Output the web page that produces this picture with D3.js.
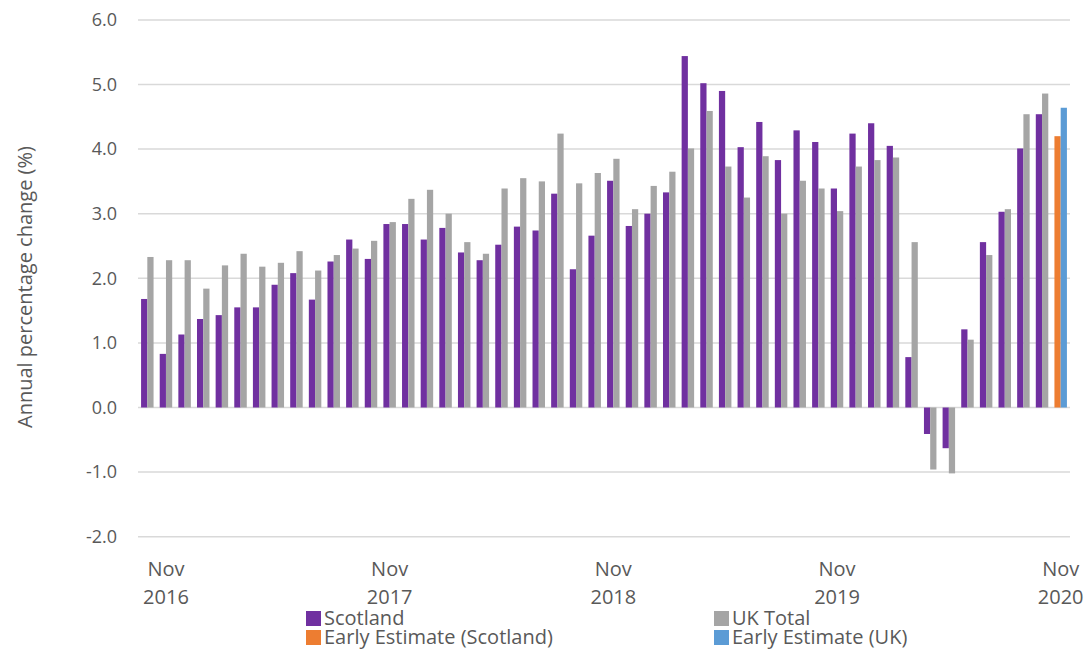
<!DOCTYPE html>
<html>
<head>
<meta charset="utf-8">
<script src="https://cdn.jsdelivr.net/npm/d3@7"></script>
<style>
  body { margin: 0; background: #fff; }
  .tick-y { font-family: "Open Sans", sans-serif; font-size: 18px; fill: #595959; }
  .tick-x, .legend text { font-family: "Open Sans", sans-serif; font-size: 20px; fill: #595959; }
  .ytitle { font-family: "Open Sans", sans-serif; font-size: 20px; fill: #595959; }
</style>
</head>
<body>
<div id="chart"></div>
<script>

// Oct 2016 .. Oct 2020, monthly
var scotland = [1.68, 0.83, 1.13, 1.37, 1.43, 1.55, 1.55, 1.90, 2.08, 1.67,
                2.26, 2.60, 2.30, 2.84, 2.84, 2.60, 2.78, 2.40, 2.28, 2.52,
                2.80, 2.74, 3.31, 2.14, 2.66, 3.51, 2.81, 3.00, 3.33, 5.44,
                5.02, 4.90, 4.03, 4.42, 3.83, 4.29, 4.11, 3.39, 4.24, 4.40,
                4.05, 0.78, -0.41, -0.63, 1.21, 2.56, 3.03, 4.01, 4.54];
var ukTotal  = [2.33, 2.28, 2.28, 1.84, 2.20, 2.38, 2.18, 2.24, 2.42, 2.12,
                2.36, 2.46, 2.58, 2.87, 3.23, 3.37, 3.00, 2.56, 2.38, 3.39,
                3.55, 3.50, 4.24, 3.47, 3.63, 3.85, 3.07, 3.43, 3.65, 4.01,
                4.59, 3.73, 3.25, 3.89, 3.00, 3.51, 3.39, 3.04, 3.73, 3.83,
                3.87, 2.56, -0.96, -1.02, 1.05, 2.36, 3.07, 4.54, 4.86];
// Nov 2020 early estimates
var earlyScotland = [4.20];
var earlyUK = [4.64];

var yTicks = [-2, -1, 0, 1, 2, 3, 4, 5, 6];
var xTickMonths = ["Nov 2016", "Nov 2017", "Nov 2018", "Nov 2019", "Nov 2020"];

var legendItems = [
    {label: "Scotland", color: "#7030A0"},
    {label: "UK Total", color: "#A5A5A5"},
    {label: "Early Estimate (Scotland)", color: "#ED7D31"},
    {label: "Early Estimate (UK)", color: "#5B9BD5"}
];

var fmt = d3.timeFormat("%b %Y");
var months = d3.timeMonth.range(new Date(2016, 9, 1), new Date(2020, 11, 1)).map(fmt);

// build rows: one per month, two slots
var rows = months.map(function (m, i) {
    if (i < scotland.length) {
        return {month: m, bars: [
            {slot: "a", value: scotland[i], color: "#7030A0"},
            {slot: "b", value: ukTotal[i], color: "#A5A5A5"}
        ]};
    }
    var j = i - scotland.length;
    return {month: m, bars: [
        {slot: "a", value: earlyScotland[j], color: "#ED7D31"},
        {slot: "b", value: earlyUK[j], color: "#5B9BD5"}
    ]};
});

var width = 1088, height = 652;
var svg = d3.select("#chart").append("svg")
    .attr("width", width)
    .attr("height", height);

var x = d3.scaleBand()
    .domain(months)
    .range([138, 1070])
    .paddingInner(0.33)
    .paddingOuter(0.165);

var xs = d3.scaleBand()
    .domain(["a", "b"])
    .range([0, x.bandwidth()]);

var y = d3.scaleLinear()
    .domain([-2, 6])
    .range([536.7, 19.9]);

// gridlines
svg.append("g")
    .selectAll("line")
    .data(yTicks)
    .enter()
    .append("line")
    .attr("x1", 138)
    .attr("x2", 1070)
    .attr("y1", function (d) { return y(d); })
    .attr("y2", function (d) { return y(d); })
    .attr("stroke", "#d9d9d9")
    .attr("stroke-width", 1.5);

// y tick labels
svg.append("g")
    .selectAll("text")
    .data(yTicks)
    .enter()
    .append("text")
    .attr("class", "tick-y")
    .attr("x", 117)
    .attr("y", function (d) { return y(d); })
    .attr("dy", "0.35em")
    .attr("text-anchor", "end")
    .text(function (d) { return d.toFixed(1); });

svg.append("text")
    .attr("class", "ytitle")
    .attr("transform", "translate(32,287) rotate(-90)")
    .attr("text-anchor", "middle")
    .text("Annual percentage change (%)");

// bars
var groups = svg.append("g")
    .selectAll("g")
    .data(rows)
    .enter()
    .append("g")
    .attr("transform", function (d) { return "translate(" + x(d.month) + ",0)"; });

groups.selectAll("rect")
    .data(function (d) { return d.bars; })
    .enter()
    .append("rect")
    .attr("x", function (d) { return xs(d.slot); })
    .attr("width", xs.bandwidth())
    .attr("y", function (d) { return y(Math.max(0, d.value)); })
    .attr("height", function (d) { return Math.abs(y(d.value) - y(0)); })
    .attr("fill", function (d) { return d.color; });

// x tick labels
var xt = svg.append("g")
    .selectAll("text")
    .data(xTickMonths)
    .enter()
    .append("text")
    .attr("class", "tick-x")
    .attr("text-anchor", "middle")
    .attr("transform", function (d) { return "translate(" + (x(d) + x.bandwidth() / 2) + ",0)"; });

xt.append("tspan")
    .attr("x", 0)
    .attr("y", 576)
    .text(function (d) { return d.split(" ")[0]; });
xt.append("tspan")
    .attr("x", 0)
    .attr("y", 604)
    .text(function (d) { return d.split(" ")[1]; });

// legend
var legendPos = [[306, 611], [714, 611], [306, 630], [714, 630]];
var legend = svg.append("g")
    .attr("class", "legend")
    .selectAll("g")
    .data(legendItems)
    .enter()
    .append("g")
    .attr("transform", function (d, i) { return "translate(" + legendPos[i][0] + "," + legendPos[i][1] + ")"; });

legend.append("rect")
    .attr("width", 15)
    .attr("height", 15)
    .attr("fill", function (d) { return d.color; });

legend.append("text")
    .attr("x", 18)
    .attr("y", 14)
    .text(function (d) { return d.label; });

</script>
</body>
</html>
